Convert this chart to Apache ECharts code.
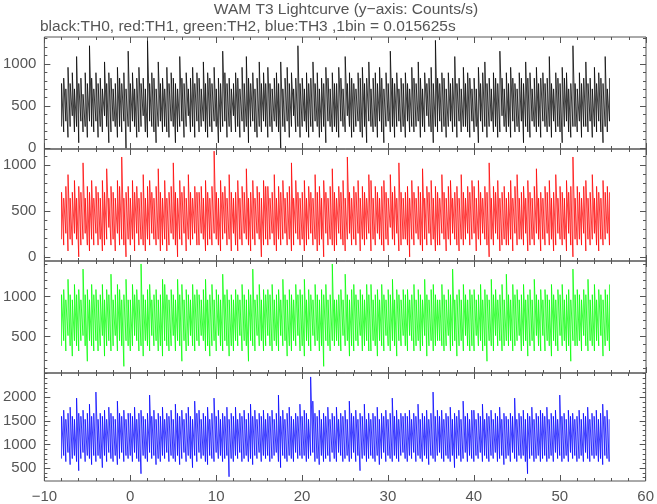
<!DOCTYPE html>
<html>
<head>
<meta charset="utf-8">
<script src="https://cdn.jsdelivr.net/npm/echarts@6/dist/echarts.min.js"></script>
<style>
html,body{margin:0;padding:0;background:#fff;}
#chart{width:657px;height:504px;}
</style>
</head>
<body>
<div id="chart"></div>
<script>
// Bin width (s): counts per bin / binWidth = counts/s
const binWidth = 0.015625;
// Each plotted step covers 0.25 s of bins: lowest and highest bin seen in it
const timeStart = -8;
const timeStep = 0.25;

// Tick labels
const xTickLabels = [-10, 0, 10, 20, 30, 40, 50, 60];
const th0Ticks = [0, 500, 1000];
const th1Ticks = [0, 500, 1000];
const th2Ticks = [500, 1000];
const th3Ticks = [500, 1000, 1500, 2000];

// TH0 (black): lowest / highest counts per bin in each step
const th0Low = [
4,3,5,2,4,6,3,4,1,5,3,4,2,5,4,3,
5,2,4,3,6,4,1,3,5,4,2,4,3,5,0,4,
3,5,4,2,3,4,6,3,2,5,4,3,1,4,5,3,
4,3,2,5,4,1,3,4,5,2,4,6,3,4,2,5,
3,4,5,3,2,4,3,5,4,1,3,4,5,2,4,3,
6,3,4,2,5,3,4,1,4,5,3,2,4,3,5,4,
2,4,3,5,4,3,0,4,3,5,2,4,6,3,4,2,
4,5,3,2,4,3,5,4,2,3,4,1,5,4,3,4,
3,2,5,4,3,6,4,2,3,4,5,3,2,4,1,5,
4,3,4,2,5,3,1,4,5,3,4,2,4,5,3,4,
2,5,3,4,3,4,5,2,4,3,6,4,3,1,4,3,
5,3,4,2,4,5,3,4,2,5,3,4,4,3,2,5,
3,4,1,5,3,4,2,4,5,3,4,2,3,6,4,3,
4,2,5,3,4,3,5,1,4,3,2,5,4,3,4,2,
5,4,3,4,2,5,3,4,3,1,4,5,3,2,4,4,
3,5,2,4,4,3,5,2,4,3,5,3,1,4,3,5
];
const th0High = [
12,13,11,15,12,14,11,17,12,13,10,14,12,19,13,11,
14,12,13,11,16,12,14,13,11,12,15,13,12,14,11,18,
12,14,11,13,15,12,13,11,20,12,14,13,11,16,12,13,
11,15,12,14,13,12,11,17,13,12,14,11,13,15,12,14,
13,11,16,12,14,13,12,15,11,13,12,18,14,12,13,11,
12,14,13,11,15,12,17,13,12,14,11,13,16,12,14,12,
15,12,11,13,14,12,16,11,13,15,12,14,11,13,19,12,
13,11,14,12,13,16,12,14,11,13,12,15,13,11,14,12,
12,15,13,11,17,12,14,13,12,11,14,13,15,12,13,16,
11,13,14,12,15,13,11,14,12,18,13,12,14,11,13,12,
14,12,11,15,13,12,16,13,11,14,12,13,15,12,20,13,
12,14,13,11,14,12,13,17,12,13,11,15,12,14,13,11,
13,11,15,12,14,16,12,13,11,14,13,12,18,13,11,14,
12,15,13,12,11,14,13,12,16,13,14,11,13,15,12,13,
14,12,13,17,12,11,14,13,12,15,13,14,11,12,19,12,
11,14,12,13,16,12,13,11,15,12,14,13,12,17,11,13
];

// TH1 (red): lowest / highest counts per bin in each step
const th1Low = [
3,2,4,1,3,2,4,3,0,2,3,4,2,1,3,2,
4,2,3,1,2,3,5,2,3,1,4,2,3,2,0,3,
2,3,1,4,2,3,2,1,3,2,4,3,2,3,1,2,
3,1,2,4,3,2,0,3,2,4,1,3,2,3,4,2,
2,4,3,1,2,3,2,4,3,2,1,3,4,2,3,1,
4,2,1,3,2,4,3,2,1,3,2,4,3,0,2,3,
2,3,4,2,1,3,2,3,4,2,3,1,2,4,3,2,
3,1,2,3,4,2,3,1,2,3,0,4,2,3,2,1,
2,4,3,2,1,3,4,2,3,2,4,1,3,2,3,4,
1,3,2,4,3,2,1,3,2,5,3,2,4,1,2,3,
3,2,0,3,2,4,3,2,1,3,2,4,2,3,1,2,
2,4,3,1,3,2,4,3,2,1,3,2,3,4,2,3,
4,1,3,2,4,3,2,0,3,2,4,3,1,2,3,2,
2,3,1,4,2,3,3,2,4,1,2,3,2,4,3,1,
3,2,4,2,3,1,2,4,3,2,3,1,4,2,0,3,
2,3,2,4,1,3,2,3,4,2,1,3,2,3,4,2
];
const th1High = [
11,10,12,14,10,11,13,10,12,11,16,10,12,11,13,10,
12,11,10,13,11,15,10,12,11,10,13,12,17,10,11,12,
10,13,11,12,10,11,14,10,12,13,11,10,12,15,11,10,
13,10,11,12,16,11,10,13,11,12,10,14,11,10,12,11,
11,12,10,13,11,10,12,18,11,10,13,11,12,10,14,11,
10,11,13,10,12,11,15,10,11,13,10,12,11,10,13,12,
12,10,11,14,10,12,11,13,10,11,12,16,10,13,11,10,
11,13,10,12,11,10,14,11,12,10,13,11,10,12,15,11,
10,12,11,13,10,17,11,10,12,11,13,10,12,11,10,14,
13,10,12,11,10,12,13,11,10,14,11,12,10,16,11,10,
11,12,10,13,11,10,12,11,15,10,12,11,13,10,12,11,
10,14,11,10,12,13,10,11,12,10,14,11,10,12,11,13,
12,10,13,11,10,12,11,16,10,12,11,13,10,11,12,10,
11,13,10,12,14,10,11,12,10,13,11,10,12,15,10,11,
10,12,11,13,10,11,14,10,12,11,10,13,11,12,17,10,
12,11,10,12,13,10,11,14,10,12,11,10,13,11,12,11
];

// TH2 (green): lowest / highest counts per bin in each step
const th2Low = [
6,7,5,8,6,4,7,6,5,7,8,6,3,7,6,5,
7,5,6,8,4,6,7,5,6,8,5,7,6,2,7,6,
5,6,8,7,5,6,4,7,6,5,8,6,7,5,6,4,
7,6,5,6,8,5,7,6,3,7,5,6,8,6,5,7,
6,8,7,5,6,4,6,7,5,8,6,5,7,6,4,6,
5,7,6,8,5,7,6,3,7,6,5,8,6,7,5,6,
8,6,5,7,6,5,8,6,7,4,6,5,7,6,8,5,
6,4,7,6,5,8,6,7,5,6,2,7,6,5,7,6,
7,6,5,8,6,7,4,6,5,7,6,8,5,6,7,5,
5,7,6,4,7,6,5,8,6,5,7,6,4,7,6,8,
6,5,8,7,5,6,7,5,6,8,4,6,7,5,6,7,
7,6,5,6,8,5,6,7,4,6,7,5,8,6,5,6,
5,8,6,7,5,6,3,7,6,5,8,6,7,5,6,7,
6,7,5,6,7,8,5,6,7,4,6,7,5,8,6,5,
8,5,7,6,4,7,6,5,8,6,7,5,6,3,7,6,
6,7,5,8,6,5,7,6,5,7,6,8,4,6,7,5
];
const th2High = [
16,17,15,19,16,15,18,16,17,15,21,16,17,15,18,16,
17,15,16,18,15,17,16,20,15,16,18,17,15,16,19,15,
15,18,16,17,15,22,16,15,17,18,15,16,17,15,16,19,
18,16,15,17,16,15,19,16,18,15,17,16,15,18,16,17,
16,15,17,19,15,16,18,15,17,16,15,20,16,17,15,16,
15,17,16,15,18,16,15,17,16,21,15,16,18,15,17,16,
17,16,18,15,16,17,15,19,16,15,17,16,15,18,16,17,
16,19,15,17,16,15,18,16,15,17,16,18,15,16,22,15,
15,16,17,15,20,16,15,17,18,16,15,17,16,15,18,16,
18,15,16,17,15,18,16,15,17,16,19,15,17,16,15,17,
16,17,15,16,18,15,17,16,15,19,16,15,17,18,16,15,
15,18,16,15,17,16,21,15,16,17,15,18,16,15,17,16,
17,15,16,18,15,17,16,15,19,16,17,15,16,18,15,20,
16,15,18,16,17,15,16,18,15,16,17,15,19,16,15,17,
15,17,16,15,18,16,15,17,16,18,15,16,17,15,21,16,
17,16,15,17,16,19,15,16,18,15,17,16,15,17,16,18
];

// TH3 (blue): lowest / highest counts per bin in each step
const th3Low = [
11,12,10,13,9,11,12,10,7,11,13,10,12,11,9,12,
10,12,11,8,12,10,13,11,10,12,9,11,13,10,12,11,
12,10,13,11,10,6,12,11,10,13,11,12,9,11,10,12,
11,13,10,12,11,10,12,9,11,13,10,12,11,8,12,10,
13,11,12,10,9,12,11,10,13,11,12,10,11,12,5,11,
10,12,11,13,10,11,12,10,11,9,12,11,13,10,12,11,
12,10,11,12,13,10,8,12,11,10,12,11,10,13,11,12,
11,12,10,11,12,13,10,11,9,12,10,11,12,10,13,11,
10,13,12,10,11,12,10,11,13,10,12,7,11,12,10,11,
12,11,10,12,9,11,13,10,12,11,10,12,11,10,12,13,
11,10,12,11,13,10,12,11,10,12,11,9,12,11,10,12,
13,11,10,12,11,10,12,8,11,12,10,11,13,10,12,11,
10,12,11,13,10,12,11,10,12,11,13,10,11,12,9,11,
12,10,13,11,10,12,11,12,10,6,11,12,10,11,12,10,
11,12,10,11,12,10,13,11,12,10,11,12,10,13,11,12,
10,11,12,10,13,11,10,12,11,12,10,11,9,12,11,10
];
const th3High = [
25,27,24,26,28,25,24,31,26,25,27,24,26,29,25,26,
33,24,26,25,27,24,28,26,25,24,30,26,25,27,24,26,
26,25,28,24,26,27,25,24,26,32,25,27,24,26,25,28,
24,26,25,27,24,29,26,25,27,24,26,28,25,24,30,26,
27,24,26,25,28,24,26,31,25,27,24,26,25,28,24,26,
25,28,24,26,25,27,24,26,29,25,27,24,26,25,27,24,
26,25,27,24,26,32,25,27,24,26,28,25,24,26,25,29,
25,27,26,24,38,30,26,25,27,24,26,25,28,24,26,25,
28,24,26,25,27,24,30,26,25,27,24,26,25,29,24,26,
24,26,25,28,24,26,25,27,24,26,31,25,27,24,26,25,
26,25,27,24,26,25,29,24,26,25,27,24,26,33,25,27,
25,27,24,26,25,28,24,26,25,27,24,30,25,26,24,27,
27,24,26,25,29,24,26,25,27,24,26,25,28,24,26,25,
24,26,25,31,24,26,25,27,24,26,25,28,24,26,25,27,
26,25,28,24,26,25,27,24,32,25,26,24,27,25,26,24,
25,27,24,26,25,28,24,26,25,27,24,26,29,25,27,24
];

const panels = [
  {low: th0Low, high: th0High, color: '#000000', min: -10, max: 1320, ticks: th0Ticks, top: 37},
  {low: th1Low, high: th1High, color: '#ff0000', min: -45, max: 1175, ticks: th1Ticks, top: 149},
  {low: th2Low, high: th2High, color: '#00ff00', min: 45,  max: 1445, ticks: th2Ticks, top: 261},
  {low: th3Low, high: th3High, color: '#0000ff', min: 230, max: 2515, ticks: th3Ticks, top: 373}
];
const panelHeight = 112;
const axisColor = '#555';
const labelFont = {fontFamily: 'Liberation Sans', fontSize: 15, color: '#555'};

const grids = [], xAxes = [], yAxes = [], series = [];
panels.forEach((p, gi) => {
  grids.push({left: 43, right: 11, top: p.top, height: panelHeight,
    show: true, borderColor: axisColor, borderWidth: 1, backgroundColor: 'transparent'});
  ['bottom', 'top'].forEach(pos => {
    xAxes.push({
      type: 'value', gridIndex: gi, position: pos, min: -10, max: 60, interval: 10,
      axisLine: {show: false, onZero: false},
      axisTick: {show: true, inside: true, length: 6, lineStyle: {color: axisColor}},
      minorTick: {show: true, splitNumber: 5, length: 3, lineStyle: {color: axisColor}},
      splitLine: {show: false},
      axisLabel: {show: pos === 'bottom' && gi === panels.length - 1, margin: 8,
        customValues: xTickLabels,
        formatter: v => (v < 0 ? '\u2212' + Math.abs(v) : String(v)), ...labelFont}
    });
  });
  const minor = [];
  for (let v = Math.ceil(p.min / 100) * 100; v <= p.max; v += 100) minor.push(v);
  ['left', 'right'].forEach(pos => {
    yAxes.push({
      type: 'value', gridIndex: gi, position: pos, min: p.min, max: p.max,
      axisLine: {show: false, onZero: false},
      axisTick: {show: true, inside: true, length: 6, customValues: p.ticks, lineStyle: {color: axisColor}},
      splitLine: {show: false},
      axisLabel: {show: pos === 'left', margin: 8, customValues: p.ticks,
        formatter: v => String(v), ...labelFont}
    });
    yAxes.push({
      type: 'value', gridIndex: gi, position: pos, min: p.min, max: p.max,
      axisLine: {show: false, onZero: false},
      axisTick: {show: true, inside: true, length: 3, customValues: minor, lineStyle: {color: axisColor}},
      splitLine: {show: false},
      axisLabel: {show: false}
    });
  });
  const data = [];
  p.low.forEach((lo, i) => {
    const t = timeStart + i * timeStep;
    data.push([t, lo / binWidth], [t, p.high[i] / binWidth]);
  });
  series.push({
    type: 'line', xAxisIndex: gi * 2, yAxisIndex: gi * 4, data: data,
    showSymbol: false, symbol: 'none', sampling: null,
    lineStyle: {color: p.color, width: 0.8, opacity: 0.95},
    itemStyle: {color: p.color},
    silent: true, animation: false
  });
});

const chart = echarts.init(document.getElementById('chart'), null, {renderer: 'canvas'});
chart.setOption({
  backgroundColor: '#fff',
  animation: false,
  grid: grids, xAxis: xAxes, yAxis: yAxes, series: series,
  graphic: [
    {type: 'text', x: 346, y: 10, style: {text: 'WAM T3 Lightcurve (y\u2212axis: Counts/s)',
      align: 'center', verticalAlign: 'middle',
      fontFamily: 'Liberation Sans', fontSize: 15.5, fill: '#555'}},
    {type: 'text', x: 40, y: 27, style: {text: 'black:TH0, red:TH1, green:TH2, blue:TH3 ,1bin = 0.015625s',
      align: 'left', verticalAlign: 'middle',
      fontFamily: 'Liberation Sans', fontSize: 15.5, fill: '#555'}}
  ]
});
</script>
</body>
</html>
